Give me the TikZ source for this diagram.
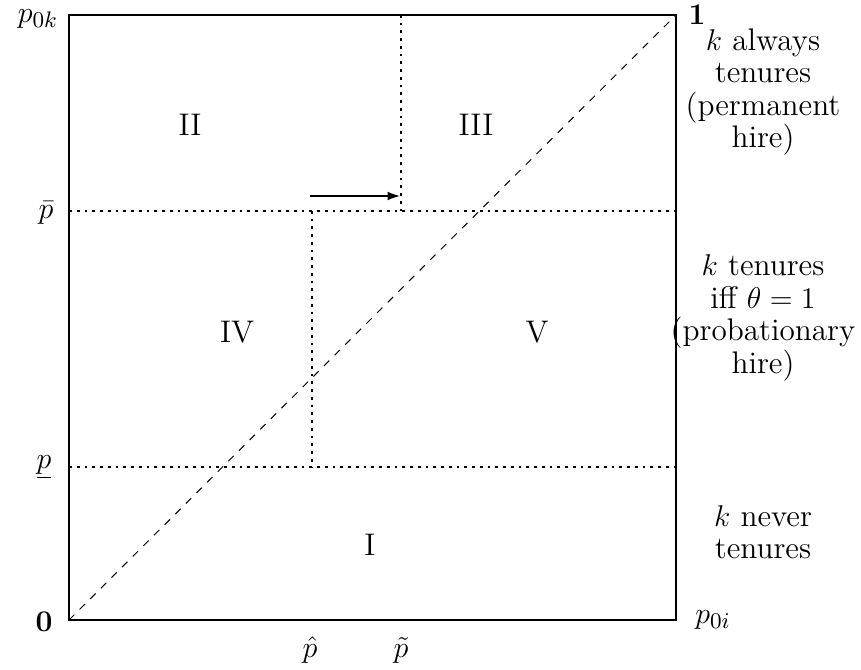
\documentclass[tikz,border=0pt]{standalone}
\usetikzlibrary{arrows.meta}
\tikzset{
  frame/.style={line width=0.9pt},
  guide/.style={dotted, line width=1.1pt},
  diag/.style={dashed, line width=0.4pt},
  region/.style={font=\fontsize{12.5}{13.5}\selectfont},
  side/.style={align=center, font=\fontsize{12.5}{13}\selectfont},
  ax/.style={inner sep=1pt, font=\fontsize{12.5}{13.5}\selectfont}
}
\begin{document}
\begin{tikzpicture}[x=0.4pt,y=-0.4pt]
\useasboundingbox (0,0) rectangle (861,670);
% corners
\coordinate (O) at (69,620);
\coordinate (TL) at (69,15);
\coordinate (TR) at (676,15);
\coordinate (BR) at (676,620);
\coordinate (pbL) at (69,211);
\coordinate (pbR) at (676,211);
\coordinate (puL) at (69,467);
\coordinate (puR) at (676,467);
\coordinate (vhTop) at (312,211);
\coordinate (vhBot) at (312,467);
\coordinate (vtTop) at (401,15);
\coordinate (vtBot) at (401,211);
\coordinate (arS) at (310,196);
\coordinate (arE) at (400,196);
% frame
\draw[frame] (TL) -- (O) -- (BR) -- (TR) -- cycle;
\draw[diag] (O) -- (TR);
\draw[guide] (pbL) -- (pbR);
\draw[guide] (puL) -- (puR);
\draw[guide] (vhTop) -- (vhBot);
\draw[guide] (vtTop) -- (vtBot);
\draw[-{Latex[length=5pt,width=3.5pt]}, line width=0.5pt] (arS) -- (arE);
% region labels
\node[region] (rII) at (190,125) {II};
\node[region] (rIII) at (476,125) {III};
\node[region] (rIV) at (237,332) {IV};
\node[region] (rV) at (537,332) {V};
\node[region] (rI) at (370,545) {I};
% axis labels
\node[ax] (lp0k) at (38,19) {$p_{0k}$};
\node[ax] (lpbar) at (46,213) {$\bar{p}$};
\node[ax] (lpund) at (44,467) {$\underline{p}$};
\node[ax] (lzero) at (44,622) {$\mathbf{0}$};
\node[ax] (lone) at (697,15) {$\mathbf{1}$};
\node[ax] (lp0i) at (713,620) {$p_{0i}$};
\node[ax] (lphat) at (310,650) {$\hat{p}$};
\node[ax] (lptil) at (401,650) {$\tilde{p}$};
% side texts
\node[side] (sTop) at (763,92) {$k$ always\\tenures\\(permanent\\hire)};
\node[side] (sMid) at (763,318) {$k$ tenures\\iff $\theta=1$\\(probationary\\hire)};
\node[side] (sBot) at (763,532) {$k$ never\\tenures};
\end{tikzpicture}
\end{document}
